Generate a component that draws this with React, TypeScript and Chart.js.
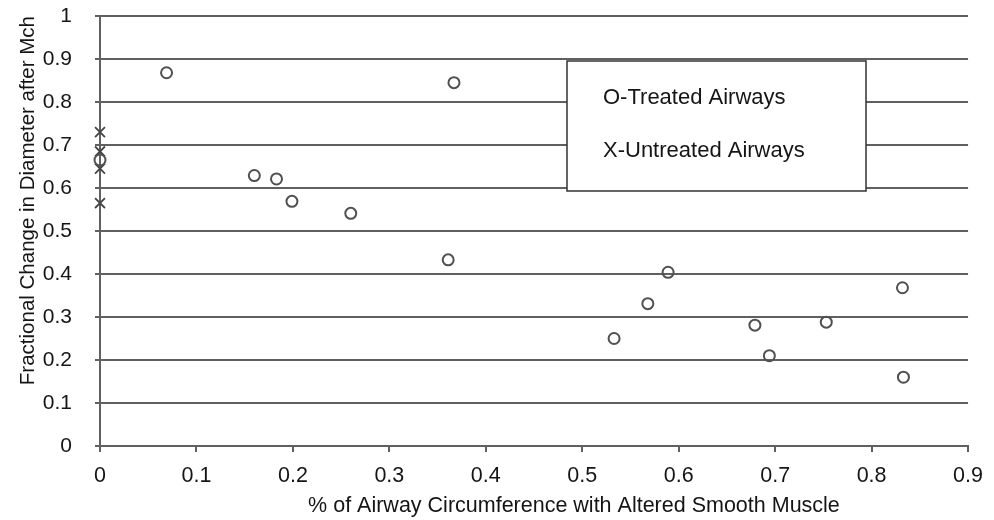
import { useEffect, useRef } from "react";
import { Chart, registerables } from "chart.js";

Chart.register(...registerables);

// Treated airways (O markers)
const treatedX = [0, 0.069, 0.160, 0.183, 0.199, 0.260, 0.361, 0.367, 0.533, 0.568, 0.589, 0.679, 0.694, 0.753, 0.832, 0.833];
const treatedY = [0.665, 0.868, 0.629, 0.621, 0.569, 0.541, 0.433, 0.845, 0.250, 0.331, 0.404, 0.281, 0.210, 0.288, 0.368, 0.160];

// Untreated airways (X markers)
const untreatedX = [0, 0, 0, 0];
const untreatedY = [0.73, 0.685, 0.645, 0.565];

// Tick labels
const xTicks = [0, 0.1, 0.2, 0.3, 0.4, 0.5, 0.6, 0.7, 0.8, 0.9];
const yTicks = [0, 0.1, 0.2, 0.3, 0.4, 0.5, 0.6, 0.7, 0.8, 0.9, 1];

const legendLabels = ["O-Treated Airways", "X-Untreated Airways"];
const xTitle = "% of Airway Circumference with Altered Smooth Muscle";
const yTitle = "Fractional Change in Diameter after Mch";

const FONT = "'Liberation Sans', Arial, Helvetica, sans-serif";
const TEXT = "#151515";
const GRID = "#606060";

const annotationPlugin = {
  id: "legendBoxAndTitle",
  afterDatasetsDraw(chart: any) {
    const { ctx, chartArea } = chart;
    const bx = chartArea.left + 467;
    const by = chartArea.top + 45;
    const bw = 299;
    const bh = 130;
    ctx.save();
    ctx.fillStyle = "#ffffff";
    ctx.fillRect(bx, by, bw, bh);
    ctx.strokeStyle = "#333333";
    ctx.lineWidth = 1.5;
    ctx.strokeRect(bx, by, bw, bh);
    ctx.fillStyle = TEXT;
    ctx.font = `22px ${FONT}`;
    ctx.textAlign = "left";
    ctx.textBaseline = "middle";
    ctx.fillText(legendLabels[0], bx + 36, by + 37);
    ctx.fillText(legendLabels[1], bx + 36, by + 90);
    // x-axis title (placed slightly right of centre, as in the source figure)
    ctx.font = `21.5px ${FONT}`;
    ctx.textAlign = "center";
    const cx = chartArea.left + (chartArea.right - chartArea.left) * 0.546;
    ctx.fillText(xTitle, cx, chartArea.bottom + 60);
    ctx.restore();
  },
};

const fmt = (v: any) => String(Math.round(Number(v) * 10) / 10);

export default function App() {
  const ref = useRef<HTMLCanvasElement | null>(null);

  useEffect(() => {
    if (!ref.current) return;
    const chart = new Chart(ref.current, {
      type: "scatter",
      data: {
        datasets: [
          {
            label: legendLabels[0],
            data: treatedX.map((x, i) => ({ x, y: treatedY[i] })),
            pointStyle: "circle",
            pointRadius: 5.5,
            pointBorderWidth: 2,
            borderColor: "#505050",
            backgroundColor: "rgba(0,0,0,0)",
            clip: false as any,
          },
          {
            label: legendLabels[1],
            data: untreatedX.map((x, i) => ({ x, y: untreatedY[i] })),
            pointStyle: "crossRot",
            pointRadius: 7,
            pointBorderWidth: 1.8,
            borderColor: "#444444",
            backgroundColor: "#444444",
            clip: false as any,
          },
        ],
      },
      options: {
        animation: false,
        responsive: true,
        maintainAspectRatio: false,
        layout: { padding: { top: 16, right: 17, left: 0, bottom: 0 } },
        plugins: {
          legend: { display: false },
          tooltip: { enabled: false },
        },
        scales: {
          x: {
            type: "linear",
            min: 0,
            max: 0.9,
            afterBuildTicks: (scale: any) => {
              scale.ticks = xTicks.map((v) => ({ value: v }));
            },
            afterFit: (scale: any) => {
              scale.height = 74;
            },
            grid: {
              drawOnChartArea: false,
              drawTicks: true,
              tickLength: 6,
              color: GRID,
              lineWidth: 2,
            },
            border: { display: true, color: GRID, width: 2 },
            ticks: {
              callback: fmt,
              color: TEXT,
              font: { family: FONT, size: 21.5 },
              padding: 11,
              maxRotation: 0,
              autoSkip: false,
            },
            title: { display: false, text: xTitle },
          },
          y: {
            type: "linear",
            min: 0,
            max: 1,
            afterBuildTicks: (scale: any) => {
              scale.ticks = yTicks.map((v) => ({ value: v }));
            },
            afterFit: (scale: any) => {
              scale.width = 100;
              scale.paddingTop = 0;
              scale.paddingBottom = 0;
            },
            grid: {
              drawOnChartArea: true,
              drawTicks: true,
              tickLength: 5,
              color: GRID,
              lineWidth: 2,
            },
            border: { display: true, color: GRID, width: 2 },
            ticks: {
              callback: fmt,
              color: TEXT,
              font: { family: FONT, size: 21 },
              padding: 23,
              autoSkip: false,
            },
            title: {
              display: true,
              text: yTitle,
              align: "end",
              color: TEXT,
              font: { family: FONT, size: 20.5 },
              padding: { top: 16, bottom: 0 },
            },
          },
        },
      },
      plugins: [annotationPlugin],
    });
    return () => chart.destroy();
  }, []);

  return (
    <div style={{ position: "absolute", left: 0, top: 0, width: 994, height: 520, background: "#fff" }}>
      <canvas ref={ref} />
    </div>
  );
}
